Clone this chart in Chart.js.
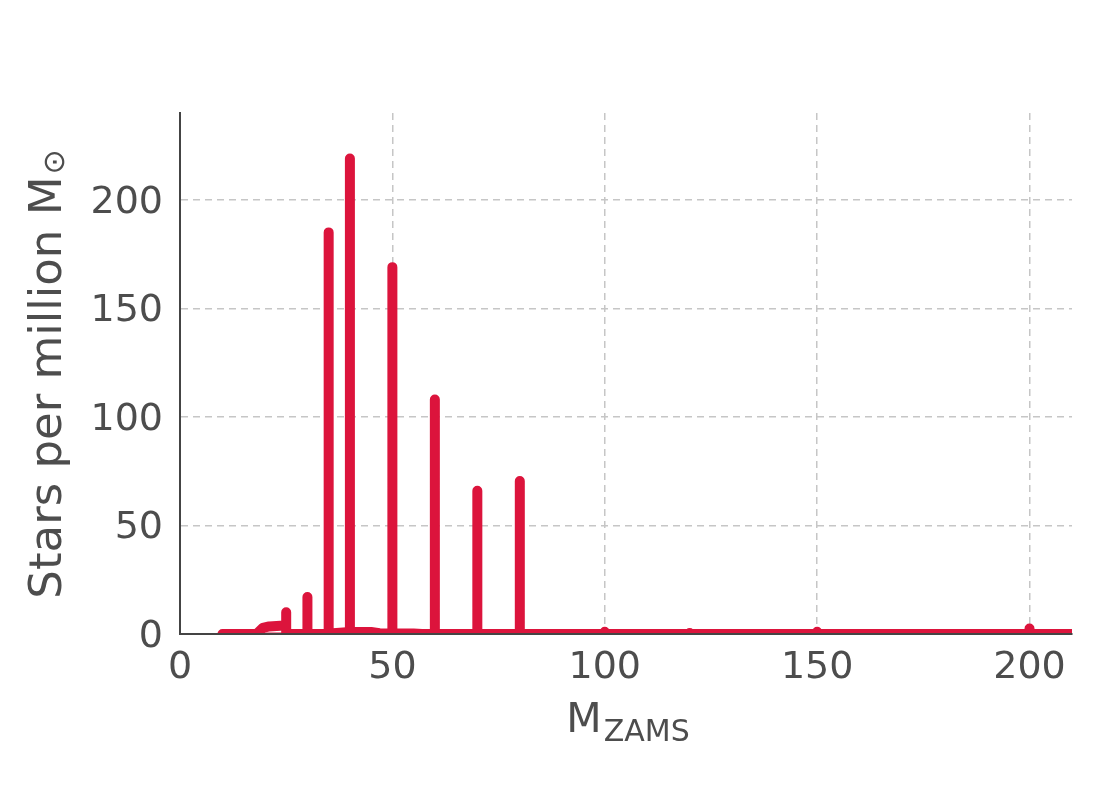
<!DOCTYPE html>
<html>
<head>
<meta charset="utf-8">
<script src="https://cdn.jsdelivr.net/npm/chart.js@4.4.1/dist/chart.umd.min.js"></script>
<style>
  html, body { margin: 0; padding: 0; background: #fff; }
  canvas { display: block; }
</style>
</head>
<body>
<canvas id="myChart" width="1117" height="787"></canvas>
<script>
// rising floor before the first spike
const plateauMass = [10, 18, 19.5, 21, 24.5, 25];
const plateauStars = [0, 0, 2.8, 3.5, 3.9, 4];

// spikes at the sampled ZAMS masses
const spikeMass = [25, 30, 35, 40, 50, 60, 70, 80, 100, 120, 150, 200];
const spikeStars = [10, 17, 185, 219, 169, 108, 66, 70.5, 1, 0.5, 1, 2.5];
const endMass = 210;

// thin zero line under the plateau
const underMass = [18, 25];
const underStars = [0, 0];

// small shoulder after the 40 spike
const shoulderMass = [36, 40, 45, 47, 55, 57];
const shoulderStars = [0.4, 0.9, 0.9, 0.4, 0.2, 0];

const xTicks = [0, 50, 100, 150, 200];
const yTicks = [0, 50, 100, 150, 200];

const red = "#dc143c";
const textCol = "#4d4d4d";

const mainPath = plateauMass.map((m, i) => ({ x: m, y: plateauStars[i] }));
spikeMass.forEach((m, i) => {
  mainPath.push({ x: m, y: 0 }, { x: m, y: spikeStars[i] }, { x: m, y: 0 });
});
mainPath.push({ x: endMass, y: 0 });

const underPath = underMass.map((m, i) => ({ x: m, y: underStars[i] }));
const shoulderPath = shoulderMass.map((m, i) => ({ x: m, y: shoulderStars[i] }));

const titles = {
  id: "titles",
  afterDraw(chart) {
    const ctx = chart.ctx;
    ctx.save();
    ctx.fillStyle = textCol;
    ctx.textBaseline = "alphabetic";
    ctx.textAlign = "left";

    // y title, rotated
    ctx.font = '45px "DejaVu Sans"';
    const main = "Stars per million M";
    const wMain = ctx.measureText(main).width;
    ctx.font = '30px "DejaVu Sans"';
    const wSun = ctx.measureText("\u2299").width;
    ctx.translate(61, 374);
    ctx.rotate(-Math.PI / 2);
    const start = -(wMain + 2 + wSun) / 2;
    ctx.font = '45px "DejaVu Sans"';
    ctx.fillText(main, start, 0);
    ctx.font = '30px "DejaVu Sans"';
    ctx.fillText("\u2299", start + wMain + 2, 3);
    ctx.restore();

    // x title with subscript
    ctx.save();
    ctx.fillStyle = textCol;
    ctx.textBaseline = "alphabetic";
    ctx.font = '41px "DejaVu Sans"';
    const wM = ctx.measureText("M").width;
    ctx.font = '30px "DejaVu Sans"';
    const wZ = ctx.measureText("ZAMS").width;
    const cx = (chart.chartArea.left + chart.chartArea.right) / 2 + 2;
    const x0 = cx - (wM + 2 + wZ) / 2;
    ctx.font = '41px "DejaVu Sans"';
    ctx.fillText("M", x0, 732);
    ctx.font = '30px "DejaVu Sans"';
    ctx.fillText("ZAMS", x0 + wM + 2, 741);
    ctx.restore();
  }
};

const lineStyle = {
  borderColor: red,
  backgroundColor: red,
  borderWidth: 10,
  borderCapStyle: "round",
  borderJoinStyle: "round",
  pointRadius: 0,
  tension: 0,
  fill: false,
  clip: 0
};

new Chart(document.getElementById("myChart"), {
  type: "line",
  data: {
    datasets: [
      { label: "under", data: underPath, ...lineStyle, borderWidth: 3 },
      { label: "shoulder", data: shoulderPath, ...lineStyle },
      { label: "main", data: mainPath, ...lineStyle }
    ]
  },
  options: {
    responsive: false,
    animation: false,
    devicePixelRatio: 1,
    layout: { padding: { top: 113, right: 45, left: 0, bottom: 0 } },
    plugins: { legend: { display: false }, tooltip: { enabled: false } },
    scales: {
      x: {
        type: "linear",
        min: 0,
        max: 210,
        afterFit: (s) => { s.height = 153; },
        afterBuildTicks: (s) => { s.ticks = xTicks.map((v) => ({ value: v })); },
        ticks: { color: textCol, font: { family: "DejaVu Sans", size: 38 }, padding: 11, maxRotation: 0 },
        grid: { color: "#c6c6c6", lineWidth: 1.5, drawTicks: false },
        border: { display: true, color: "#444", width: 2, dash: [7, 5], z: 1 }
      },
      y: {
        min: 0,
        max: 240,
        afterFit: (s) => { s.width = 180; },
        afterBuildTicks: (s) => { s.ticks = yTicks.map((v) => ({ value: v })); },
        ticks: { color: textCol, font: { family: "DejaVu Sans", size: 38 }, padding: 17, labelOffset: 3 },
        grid: { color: "#c6c6c6", lineWidth: 1.5, drawTicks: false },
        border: { display: true, color: "#444", width: 2, dash: [7, 5], z: 1 }
      }
    }
  },
  plugins: [titles]
});
</script>
</body>
</html>
